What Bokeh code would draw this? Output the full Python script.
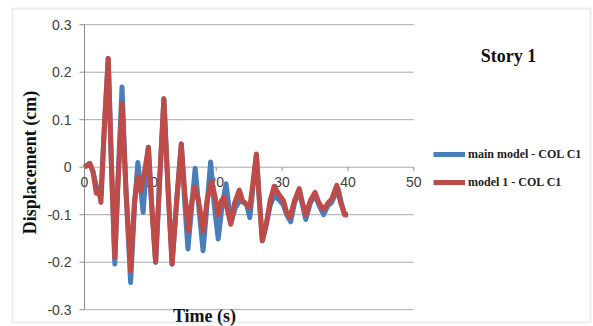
from bokeh.plotting import figure
from bokeh.models import Range1d, Label, Legend, LegendItem, BoxAnnotation
from bokeh.core.properties import value
from bokeh.embed import file_html
from bokeh.resources import INLINE
import math

# ---------------- data ----------------
t_main = [0, 0.8, 1.3, 1.8, 2.1, 2.5, 3.0, 3.6, 4.1, 4.6, 5.1, 5.7, 6.3, 7.0, 7.6, 8.1, 8.5, 8.9,
          9.3, 9.7, 10.2, 10.8, 11.4, 12.05, 12.7, 13.3, 14.0, 14.7, 15.2, 15.7, 16.3, 16.8, 17.4,
          18.0, 18.6, 19.15, 19.7, 20.3, 20.9, 21.5, 21.9, 22.3, 22.9, 23.6, 24.2, 24.6, 25.1,
          25.6, 26.1, 26.5, 27.0, 27.6, 28.2, 28.8, 29.5, 30.2, 30.7, 31.3, 31.9, 32.6, 33.1,
          33.6, 34.3, 35.0, 35.6, 36.3, 37.0, 37.5, 38.5, 39.0, 39.5, 40.0]
d_main = [0, 0.008, -0.01, -0.04, -0.045, -0.06, 0.08, 0.229, 0.0, -0.204, -0.02, 0.169, -0.05,
          -0.243, -0.08, 0.01, -0.04, -0.095, -0.02, 0.042, -0.08, -0.2, -0.03, 0.144, -0.05,
          -0.204, -0.07, 0.049, -0.07, -0.172, -0.08, -0.002, -0.09, -0.176, -0.08, 0.011,
          -0.08, -0.151, -0.08, -0.035, -0.08, -0.115, -0.085, -0.07, -0.075, -0.078, -0.106,
          -0.04, 0.025, -0.06, -0.155, -0.12, -0.08, -0.06, -0.068, -0.08, -0.1, -0.115,
          -0.075, -0.05, -0.08, -0.11, -0.075, -0.058, -0.08, -0.1, -0.08, -0.075, -0.045,
          -0.075, -0.1, -0.1]

t_model1 = [0, 0.8, 1.3, 1.8, 2.2, 2.5, 3.0, 3.6, 4.1, 4.6, 5.1, 5.7, 6.3, 7.0, 7.6, 8.1, 8.5,
            9.0, 9.7, 10.2, 10.8, 11.4, 12.05, 12.7, 13.3, 14.0, 14.7, 15.2, 15.75, 16.2, 16.7,
            17.3, 18.05, 18.6, 19.3, 19.8, 20.3, 20.8, 21.2, 21.7, 22.2, 22.8, 23.5, 24.0, 24.5,
            25.1, 25.6, 26.1, 26.5, 27.0, 27.6, 28.2, 28.8, 29.4, 30.2, 30.7, 31.2, 31.9, 32.6,
            33.1, 33.6, 34.3, 35.0, 35.6, 36.3, 37.0, 37.5, 38.3, 38.9, 39.5, 40.0]
d_model1 = [0, 0.008, -0.01, -0.055, -0.05, -0.074, 0.08, 0.229, 0.0, -0.19, -0.03, 0.134,
            -0.05, -0.218, -0.07, -0.02, -0.05, -0.02, 0.042, -0.08, -0.2, -0.03, 0.144, -0.05,
            -0.204, -0.07, 0.049, -0.05, -0.134, -0.08, -0.042, -0.07, -0.134, -0.07, -0.03,
            -0.06, -0.1, -0.07, -0.063, -0.09, -0.12, -0.075, -0.048, -0.07, -0.077, -0.085,
            -0.03, 0.028, -0.06, -0.155, -0.12, -0.07, -0.04, -0.055, -0.07, -0.095, -0.105,
            -0.07, -0.045, -0.075, -0.1, -0.07, -0.053, -0.075, -0.09, -0.075, -0.068, -0.038,
            -0.075, -0.1, -0.1]

series_names = ["main model - COL C1", "model 1 - COL C1"]
x_ticks = [0, 10, 20, 30, 40, 50]
x_tick_labels = ["0", "10", "20", "30", "40", "50"]
y_ticks = [-0.3, -0.2, -0.1, 0, 0.1, 0.2, 0.3]
y_tick_labels = ["-0.3", "-0.2", "-0.1", "0", "0.1", "0.2", "0.3"]
title_text = "Story 1"
x_title = "Time (s)"
y_title = "Displacement (cm)"

# ---------------- layout (pixels) ----------------
W, H = 593, 326
PX0, PX1 = 84.0, 413.3     # pixel x of t=0 and t=50
PY0, PYU = 166.7, 475.0    # pixel y of d=0, pixels per unit
XMIN, XMAX = x_ticks[0], x_ticks[-1]
YMIN, YMAX = y_ticks[0], y_ticks[-1]
sx = (PX1 - PX0) / (XMAX - XMIN)


def tx(px):
    return XMIN + (px - PX0) / sx


def ty(py):
    return (PY0 - py) / PYU


p = figure(width=W, height=H, output_backend="svg", toolbar_location=None,
           x_axis_type=None, y_axis_type=None,
           x_range=Range1d(tx(0), tx(W)), y_range=Range1d(ty(H), ty(0)),
           min_border=0)
p.outline_line_color = None
p.background_fill_color = "white"
p.border_fill_color = "white"
p.grid.visible = False

axis_col = "#8c8c8c"
grid_col = "#a8a8a8"
tick_font = "Liberation Sans"
serif = "Liberation Serif"

# horizontal gridlines
p.segment(x0=[XMIN] * len(y_ticks), x1=[XMAX] * len(y_ticks), y0=y_ticks, y1=y_ticks,
          line_color=grid_col, line_width=1)
# y axis
p.segment(x0=[XMIN], x1=[XMIN], y0=[YMIN], y1=[YMAX], line_color=axis_col, line_width=1)
p.ray(x=[XMIN] * len(y_ticks), y=y_ticks, length=5, length_units="screen", angle=math.pi,
      line_color=axis_col, line_width=1)
p.text(x=[XMIN] * len(y_ticks), y=y_ticks, text=y_tick_labels, x_offset=-13,
       text_align="right", text_baseline="middle", text_font=value(tick_font),
       text_font_size="14px", text_color="#404040")
# x axis at zero
p.ray(x=x_ticks, y=[0] * len(x_ticks), length=4, length_units="screen",
      angle=-math.pi / 2, line_color=axis_col, line_width=1)
p.text(x=x_ticks, y=[0] * len(x_ticks), text=x_tick_labels, y_offset=10,
       text_align="center", text_baseline="top", text_font=value(tick_font),
       text_font_size="14px", text_color="#404040")

r_main = p.line(t_main, d_main, line_color="#4a7ebb", line_width=5, line_join="round")
r_m1 = p.line(t_model1, d_model1, line_color="#be4b48", line_width=5, line_join="round")

legend = Legend(items=[LegendItem(label=series_names[0], renderers=[r_main]),
                       LegendItem(label=series_names[1], renderers=[r_m1])],
                location=(433, H - 192), orientation="vertical")
legend.background_fill_alpha = 0
legend.border_line_color = None
legend.padding = 0
legend.margin = 0
legend.spacing = 8
legend.glyph_width = 32
legend.glyph_height = 20
legend.label_height = 20
legend.label_standoff = 3
legend.label_text_font = serif
legend.label_text_font_style = "bold"
legend.label_text_font_size = "12px"
legend.label_text_color = "#222222"
p.add_layout(legend, "center")

p.add_layout(Label(x=tx(508), y=ty(55), text=title_text,
                   text_align="center", text_baseline="middle", text_font=serif,
                   text_font_style="bold", text_font_size="18px", text_color="#111111"))
p.add_layout(Label(x=tx(204), y=ty(315), text=x_title,
                   text_align="center", text_baseline="middle", text_font=serif,
                   text_font_style="bold", text_font_size="18px", text_color="#111111"))
p.add_layout(Label(x=tx(29), y=ty(162), text=y_title,
                   angle=math.pi / 2, text_align="center", text_baseline="middle",
                   text_font=serif, text_font_style="bold", text_font_size="18px",
                   text_color="#111111"))

p.add_layout(BoxAnnotation(left=tx(12), right=tx(590), top=ty(8), bottom=ty(322),
                           fill_alpha=0, line_color="#c4c4c4", line_width=2))

open("out.html", "w").write(file_html(p, INLINE))
